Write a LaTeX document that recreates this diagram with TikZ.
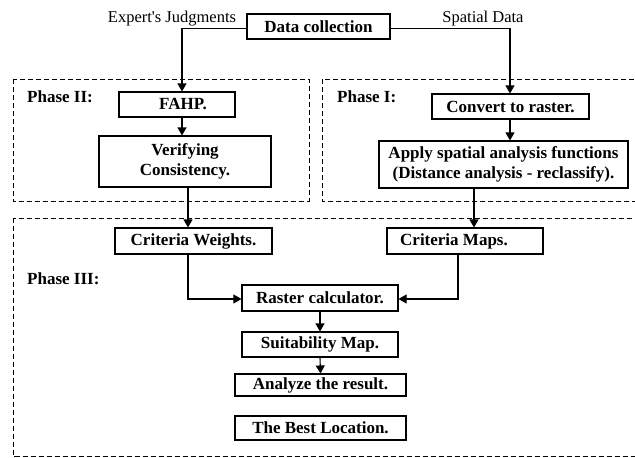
\documentclass[tikz,border=0pt]{standalone}
\usepackage{fontspec}
\setmainfont{Liberation Serif}
\usetikzlibrary{arrows.meta}
\begin{document}
\begin{tikzpicture}[x=1pt,y=-1pt,
  box/.style={draw,line width=1.1pt,inner sep=0pt,align=center,font=\fontsize{17}{20}\selectfont\bfseries},
  phase/.style={draw,line width=1pt,dash pattern=on 5pt off 3pt},
  plabel/.style={anchor=west,inner sep=0pt,font=\fontsize{17}{20}\selectfont\bfseries},
  src/.style={inner sep=0pt,font=\fontsize{16.5}{20}\selectfont},
  conn/.style={line width=1.1pt},
  arr/.style={line width=1.1pt,-{Triangle[length=8pt,width=9pt]}}]
\useasboundingbox (0,0) rectangle (635,458);
\clip (0,0) rectangle (635,458);
% phase frames
\draw[phase] (13,79) rectangle (309,201);
\draw[phase] (322,79) rectangle (660,201);
\draw[phase] (13,218) rectangle (660,456.5);
\node[plabel] (p2) at (27,97) {Phase II:};
\node[plabel] (p1) at (337,97) {Phase I:};
\node[plabel] (p3) at (27,279) {Phase III:};
% source labels
\node[src] (ej) at (172,19) {Expert\textquotesingle s Judgments};
\node[src] (sd) at (483,19) {Spatial Data};
% boxes
\node[box,minimum width=143pt,minimum height=25pt] (data) at (318.5,26.5) {Data collection};
\node[box,minimum width=116pt,minimum height=25pt] (fahp) at (177,104.5) {\hspace*{12pt}FAHP.};
\node[box,minimum width=172pt,minimum height=51pt] (verif) at (185,161.5) {Verifying\\Consistency.};
\node[box,minimum width=157pt,minimum height=25pt] (conv) at (510.5,106.5) {Convert to raster.};
\node[box,minimum width=249pt,minimum height=47pt] (apply) at (503.5,164.5) {Apply spatial analysis functions\\(Distance analysis - reclassify).};
\node[box,minimum width=157pt,minimum height=26pt] (cw) at (193.5,241) {Criteria Weights.};
\node[box,minimum width=156pt,minimum height=26pt] (cm) at (465,241) {Criteria Maps.\hspace*{22pt}};
\node[box,minimum width=156pt,minimum height=26pt] (rc) at (320,298) {Raster calculator.};
\node[box,minimum width=156pt,minimum height=25pt] (sm) at (320,344.5) {Suitability Map.};
\node[box,minimum width=171pt,minimum height=22pt] (ar) at (320.5,385) {Analyze the result.};
\node[box,minimum width=171pt,minimum height=24pt] (bl) at (320.5,428) {The Best Location.};
% connector corners
\coordinate (cl) at (182,28.5);
\coordinate (cr) at (510,28.5);
\coordinate (cwx) at (188,299);
\coordinate (cmx) at (458,299);
% connectors
\draw[arr] (data.west |- cl) -- (cl) -- (cl |- fahp.north);
\draw[arr] (data.east |- cr) -- (cr) -- (cr |- conv.north);
\draw[arr] (fahp.south -| cl) -- (verif.north -| cl);
\draw[arr] (conv.south -| cr) -- (apply.north -| cr);
\draw[arr] (verif.south -| cwx) -- (cw.north -| cwx);
\draw[arr] (apply.south -| 474,0) -- (cm.north -| 474,0);
\draw[arr] (cw.south -| cwx) -- (cwx) -- (rc.west |- cwx);
\draw[arr] (cm.south -| cmx) -- (cmx) -- (rc.east |- cmx);
\draw[arr] (rc.south) -- (sm.north);
\draw[arr] (sm.south) -- (ar.north);
\end{tikzpicture}
\end{document}
